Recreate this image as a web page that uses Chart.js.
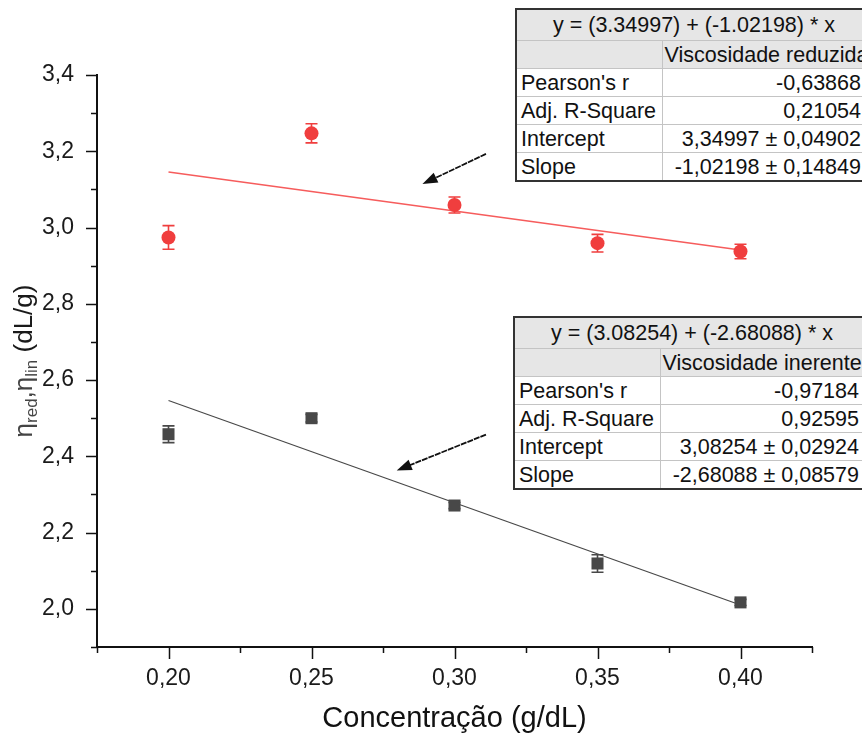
<!DOCTYPE html>
<html>
<head>
<meta charset="utf-8">
<script src="https://cdn.jsdelivr.net/npm/chart.js@4.4.1/dist/chart.umd.min.js"></script>
<style>
  html, body { margin: 0; padding: 0; background: #fff; overflow: hidden; }
  #wrap { position: relative; width: 862px; height: 740px; overflow: hidden; }
  #myChart { position: absolute; left: 0; top: 0; }
  .fit { position: absolute; border-collapse: collapse; table-layout: fixed;
         font-family: "Liberation Sans", Arial, sans-serif; font-size: 21.5px; color: #111;
         background: #fff; border: 2px solid #333; }
  .fit td { border: 1px solid #c4c4c4; padding: 0 0 0 4px; white-space: nowrap; overflow: hidden;
            height: 27px; line-height: 26px; }
  .fit tr.eq td { background: #e6e6e6; text-align: center; height: 30px; padding: 0; }
  .fit tr.nm td { background: #e6e6e6; }
  .fit tr.nm td.v { text-align: left; padding-left: 2px; }
  .fit td.v { text-align: right; padding-right: 10px; }
</style>
</head>
<body>
<div id="wrap">
  <canvas id="myChart" width="862" height="740"></canvas>
</div>
<script>
// dados
const concentracao = [0.20, 0.25, 0.30, 0.35, 0.40];
const viscReduzida = [2.974, 3.247, 3.059, 2.959, 2.937];
const errReduzida  = [0.031, 0.025, 0.021, 0.023, 0.019];
const viscInerente = [2.458, 2.500, 2.271, 2.119, 2.017];
const errInerente  = [0.022, 0.010, 0.008, 0.023, 0.008];

// ajuste linear (valores das tabelas)
const fitNames     = ['Viscosidade reduzida', 'Viscosidade inerente'];
const fitIntercept = [3.34997, 3.08254];
const fitIntErr    = [0.04902, 0.02924];
const fitSlope     = [-1.02198, -2.68088];
const fitSlopeErr  = [0.14849, 0.08579];
const fitPearson   = [-0.63868, -0.97184];
const fitAdjR2     = [0.21054, 0.92595];
const fitRange     = [0.20, 0.40];

// eixos
const xMajor = [0.20, 0.25, 0.30, 0.35, 0.40];
const xLabels = ['0,20', '0,25', '0,30', '0,35', '0,40'];
const xMinor = [0.175, 0.225, 0.275, 0.325, 0.375, 0.425];
const yMajor = [2.0, 2.2, 2.4, 2.6, 2.8, 3.0, 3.2, 3.4];
const yLabels = ['2,0', '2,2', '2,4', '2,6', '2,8', '3,0', '3,2', '3,4'];
const yMinor = [1.9, 2.1, 2.3, 2.5, 2.7, 2.9, 3.1, 3.3];

// setas (em coordenadas dos dados)
const arrowFrom = [[0.311, 3.193], [0.311, 2.457]];
const arrowTo   = [[0.2888, 3.114], [0.2798, 2.363]];

const red = 'rgb(240, 62, 62)';
const redLine = 'rgb(246, 92, 92)';
const grey = 'rgb(72, 72, 72)';
const FONT = '"Liberation Sans", Arial, sans-serif';

const pts = (ys) => concentracao.map((x, i) => ({ x: x, y: ys[i] }));
const fitPts = (k) => fitRange.map(x => ({ x: x, y: fitIntercept[k] + fitSlope[k] * x }));

const errBars = {
  id: 'errBars',
  beforeDatasetsDraw(chart) {
    const ctx = chart.ctx, xs = chart.scales.x, ys = chart.scales.y;
    chart.data.datasets.forEach(ds => {
      if (!ds.err) return;
      ctx.save();
      ctx.strokeStyle = ds.borderColor;
      ctx.lineWidth = 1.6;
      ds.data.forEach((p, i) => {
        const px = xs.getPixelForValue(p.x);
        const y1 = ys.getPixelForValue(p.y + ds.err[i]);
        const y2 = ys.getPixelForValue(p.y - ds.err[i]);
        ctx.beginPath();
        ctx.moveTo(px, y1); ctx.lineTo(px, y2);
        ctx.moveTo(px - 6, y1); ctx.lineTo(px + 6, y1);
        ctx.moveTo(px - 6, y2); ctx.lineTo(px + 6, y2);
        ctx.stroke();
      });
      ctx.restore();
    });
  }
};

const axisDeco = {
  id: 'axisDeco',
  afterDraw(chart) {
    const ctx = chart.ctx, xs = chart.scales.x, ys = chart.scales.y;
    const a = chart.chartArea;
    ctx.save();
    ctx.strokeStyle = '#111';
    ctx.lineWidth = 1.5;
    ctx.beginPath();
    xMajor.forEach(v => { const p = Math.round(xs.getPixelForValue(v)) + 0.5; ctx.moveTo(p, a.bottom); ctx.lineTo(p, a.bottom + 12); });
    xMinor.forEach(v => { const p = Math.round(xs.getPixelForValue(v)) + 0.5; ctx.moveTo(p, a.bottom); ctx.lineTo(p, a.bottom + 6); });
    yMajor.forEach(v => { const p = Math.round(ys.getPixelForValue(v)) + 0.5; ctx.moveTo(a.left, p); ctx.lineTo(a.left - 11, p); });
    yMinor.forEach(v => { const p = Math.round(ys.getPixelForValue(v)) + 0.5; ctx.moveTo(a.left, p); ctx.lineTo(a.left - 6, p); });
    ctx.stroke();

    // setas
    ctx.fillStyle = '#111';
    ctx.strokeStyle = '#111';
    arrowFrom.forEach((f, i) => {
      const x1 = xs.getPixelForValue(f[0]), y1 = ys.getPixelForValue(f[1]);
      const x2 = xs.getPixelForValue(arrowTo[i][0]), y2 = ys.getPixelForValue(arrowTo[i][1]);
      const ang = Math.atan2(y2 - y1, x2 - x1);
      ctx.lineWidth = 1.8;
      ctx.setLineDash([6, 1]);
      ctx.beginPath();
      ctx.moveTo(x1, y1);
      ctx.lineTo(x2 - 10 * Math.cos(ang), y2 - 10 * Math.sin(ang));
      ctx.stroke();
      ctx.setLineDash([]);
      ctx.beginPath();
      ctx.moveTo(x2, y2);
      ctx.lineTo(x2 - 15 * Math.cos(ang) + 5.5 * Math.sin(ang), y2 - 15 * Math.sin(ang) - 5.5 * Math.cos(ang));
      ctx.lineTo(x2 - 15 * Math.cos(ang) - 5.5 * Math.sin(ang), y2 - 15 * Math.sin(ang) + 5.5 * Math.cos(ang));
      ctx.closePath();
      ctx.fill();
    });

    // titulo do eixo y, com subscritos
    const parts = [['η', 0], ['red', 1], [',', 0], ['η', 0], ['lin', 1], [' (dL/g)', 0]];
    const big = '26px ' + FONT, small = '17px ' + FONT;
    let total = 0;
    parts.forEach(p => { ctx.font = p[1] ? small : big; total += ctx.measureText(p[0]).width; });
    ctx.translate(25, 361);
    ctx.rotate(-Math.PI / 2);
    ctx.textBaseline = 'middle';
    ctx.textAlign = 'left';
    let cx = -total / 2;
    parts.forEach(p => {
      ctx.font = p[1] ? small : big;
      ctx.fillStyle = p[0].indexOf('dL') >= 0 ? '#1a1a1a' : '#444';
      ctx.fillText(p[0], cx, p[1] ? 7 : 0);
      cx += ctx.measureText(p[0]).width;
    });
    ctx.restore();
  }
};

const ctx = document.getElementById('myChart');

new Chart(ctx, {
  type: 'scatter',
  data: {
    datasets: [
      { label: fitNames[0], data: pts(viscReduzida), err: errReduzida, borderColor: red, backgroundColor: red,
        pointStyle: 'circle', pointRadius: 7, pointBorderWidth: 0 },
      { label: fitNames[1], data: pts(viscInerente), err: errInerente, borderColor: grey, backgroundColor: grey,
        pointStyle: 'rect', pointRadius: 8.5, pointBorderWidth: 0 },
      { type: 'line', data: fitPts(0), borderColor: redLine, borderWidth: 1.6, pointRadius: 0, fill: false },
      { type: 'line', data: fitPts(1), borderColor: grey, borderWidth: 1.2, pointRadius: 0, fill: false }
    ]
  },
  options: {
    responsive: false,
    animation: false,
    events: [],
    layout: { padding: { top: 75, right: 50, left: 0, bottom: 0 } },
    plugins: { legend: { display: false }, tooltip: { enabled: false } },
    scales: {
      x: {
        type: 'linear', min: 0.175, max: 0.425,
        afterFit(s) { s.height = 93; },
        afterBuildTicks(s) { s.ticks = xMajor.map(v => ({ value: v })); },
        grid: { display: false },
        border: { display: true, color: '#111', width: 2 },
        ticks: {
          padding: 10, color: '#1a1a1a', font: { family: FONT, size: 23 },
          callback: (v) => xLabels[xMajor.findIndex(m => Math.abs(m - v) < 1e-6)]
        },
        title: { display: true, text: 'Concentração (g/dL)', color: '#111',
                 font: { family: FONT, size: 29 }, padding: { top: 0, bottom: 4 } }
      },
      y: {
        type: 'linear', min: 1.9, max: 3.4,
        afterFit(s) { s.width = 97; },
        afterBuildTicks(s) { s.ticks = yMajor.map(v => ({ value: v })); },
        grid: { display: false },
        border: { display: true, color: '#111', width: 2 },
        ticks: {
          padding: 15, color: '#1a1a1a', font: { family: FONT, size: 23 },
          callback: (v) => yLabels[yMajor.findIndex(m => Math.abs(m - v) < 1e-6)]
        }
      }
    }
  },
  plugins: [errBars, axisDeco]
});

// tabelas dos ajustes
const fmt = (v) => v.toFixed(5).replace('.', ',');
const tablePos = [[515, 8], [513, 316]];
fitNames.forEach((name, k) => {
  const t = document.createElement('table');
  t.className = 'fit';
  t.style.left = tablePos[k][0] + 'px';
  t.style.top = tablePos[k][1] + 'px';
  t.style.width = '358px';
  const eq = 'y = (' + fitIntercept[k] + ') + (' + fitSlope[k] + ') * x';
  t.innerHTML =
    '<colgroup><col style="width:146px"><col></colgroup>' +
    '<tr class="eq"><td colspan="2">' + eq + '</td></tr>' +
    '<tr class="nm"><td></td><td class="v">' + name + '</td></tr>' +
    '<tr><td>Pearson\'s r</td><td class="v">' + fmt(fitPearson[k]) + '</td></tr>' +
    '<tr><td>Adj. R-Square</td><td class="v">' + fmt(fitAdjR2[k]) + '</td></tr>' +
    '<tr><td>Intercept</td><td class="v">' + fmt(fitIntercept[k]) + ' \u00b1 ' + fmt(fitIntErr[k]) + '</td></tr>' +
    '<tr><td>Slope</td><td class="v">' + fmt(fitSlope[k]) + ' \u00b1 ' + fmt(fitSlopeErr[k]) + '</td></tr>';
  document.getElementById('wrap').appendChild(t);
});
</script>
</body>
</html>
